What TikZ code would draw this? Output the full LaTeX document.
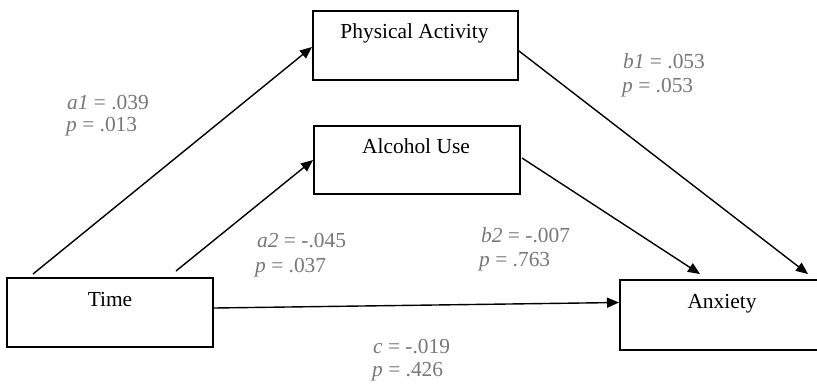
\documentclass[tikz,border=0pt]{standalone}
\usepackage{fontspec}
\setmainfont{Liberation Serif}
\usetikzlibrary{arrows.meta,calc}
\definecolor{lblgray}{RGB}{120,120,120}
\tikzset{
  box/.style={draw=black,line width=2bp,fill=none,inner sep=0pt,anchor=north west},
  boxtext/.style={anchor=base,inner sep=0pt,font=\fontsize{21.5}{23}\selectfont},
  lbl/.style={anchor=base west,inner sep=0pt,text=lblgray,font=\fontsize{21.5}{23}\selectfont},
  conn/.style={line width=1.4bp,-{Triangle[length=12bp,width=10bp]}}
}
\begin{document}
\begin{tikzpicture}[x=1bp,y=-1bp]
\clip (0,0) rectangle (817,386);
\fill[white] (0,0) rectangle (817,386);
% boxes
\node[box,minimum width=206bp,minimum height=69bp] (time) at (6,277) {};
\node[box,minimum width=205bp,minimum height=69bp] (pa) at (312,10) {};
\node[box,minimum width=206bp,minimum height=68bp] (au) at (313,125) {};
\node[box,minimum width=220bp,minimum height=70bp] (anx) at (619,279) {};
% box texts
\node[boxtext] (tpa) at (414.5,38) {Physical Activity};
\node[boxtext] (tau) at (416,153) {Alcohol Use};
\node[boxtext] (ttime) at (110,306) {Time};
\node[boxtext] (tanx) at (722,308) {Anxiety};
% connectors
\draw[conn] ($(time.north west)+(27,-3)$) -- ($(pa.north west)+(0,37)$);
\draw[conn] ($(time.north west)+(170,-6)$) -- ($(au.north west)+(0,35)$);
\draw[conn] ($(time.north east)+(0,31)$) -- ($(anx.north west)+(0,23.5)$);
\draw[conn] ($(pa.north east)+(0,41)$) -- ($(anx.north west)+(189,-5)$);
\draw[conn] ($(au.north east)+(1,33)$) -- ($(anx.north west)+(81,-5)$);
% labels
\node[lbl] (a1) at (67,109) {\textit{a1} = .039};
\node[lbl] (a1p) at (66,131) {\textit{p} = .013};
\node[lbl] (b1) at (623,68) {\textit{b1} = .053};
\node[lbl] (b1p) at (622,92) {\textit{p} = .053};
\node[lbl] (a2) at (257,247) {\textit{a2} = -.045};
\node[lbl] (a2p) at (255,272) {\textit{p} = .037};
\node[lbl] (b2) at (481,242) {\textit{b2} = -.007};
\node[lbl] (b2p) at (479,266) {\textit{p} = .763};
\node[lbl] (c) at (373,353) {\textit{c} = -.019};
\node[lbl] (cp) at (372,376) {\textit{p} = .426};
\end{tikzpicture}
\end{document}
